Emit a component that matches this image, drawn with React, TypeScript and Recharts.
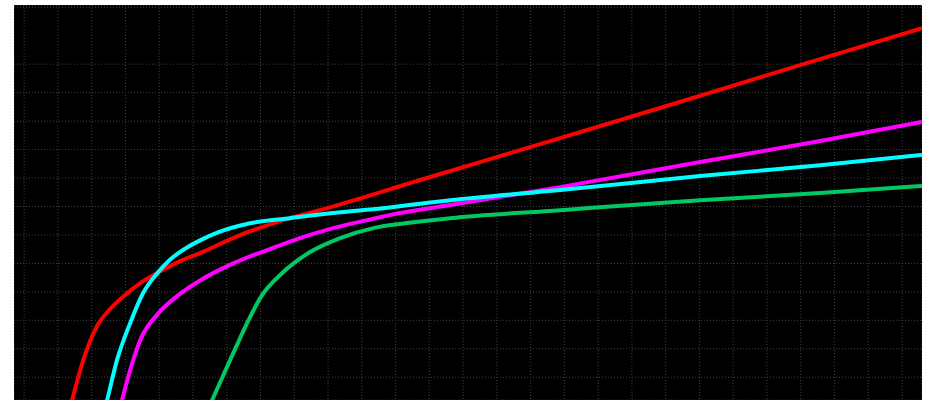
import { LineChart, Line, XAxis, YAxis, CartesianGrid } from 'recharts';

// Each curve is a list of {x, y} points in grid units (1 unit = one grid cell).
interface Pt {
    x: number;
    y: number;
}

const redCurve: Pt[] = [
    { x: 1.24, y: -0.58 }, { x: 1.42, y: 0.2 }, { x: 1.75, y: 1.6 }, { x: 2.16, y: 2.8 },
    { x: 2.55, y: 3.4 }, { x: 2.99, y: 3.89 }, { x: 3.44, y: 4.31 }, { x: 3.94, y: 4.66 },
    { x: 4.62, y: 5.08 }, { x: 5.21, y: 5.36 }, { x: 6.19, y: 5.89 }, { x: 7.67, y: 6.52 },
    { x: 8.97, y: 6.94 }, { x: 11.73, y: 7.93 }, { x: 15.28, y: 9.19 }, { x: 18.83, y: 10.46 },
    { x: 22.98, y: 11.97 }, { x: 26.59, y: 13.27 },
];

const cyanCurve: Pt[] = [
    { x: 2.31, y: -0.51 }, { x: 2.46, y: 0.2 }, { x: 2.75, y: 1.6 }, { x: 3.14, y: 2.9 },
    { x: 3.52, y: 3.95 }, { x: 3.94, y: 4.65 }, { x: 4.32, y: 5.13 }, { x: 4.77, y: 5.52 },
    { x: 5.21, y: 5.81 }, { x: 5.72, y: 6.08 }, { x: 6.69, y: 6.41 }, { x: 7.88, y: 6.59 },
    { x: 9.15, y: 6.77 }, { x: 10.63, y: 6.94 }, { x: 12.62, y: 7.22 }, { x: 15.87, y: 7.58 },
    { x: 20.02, y: 8.07 }, { x: 23.57, y: 8.45 }, { x: 26.59, y: 8.81 },
];

const magentaCurve: Pt[] = [
    { x: 2.75, y: -0.51 }, { x: 2.9, y: 0.2 }, { x: 3.14, y: 1.25 }, { x: 3.44, y: 2.31 },
    { x: 3.94, y: 3.2 }, { x: 4.53, y: 3.85 }, { x: 5.21, y: 4.4 }, { x: 6.19, y: 5.0 },
    { x: 7.2, y: 5.47 }, { x: 8.17, y: 5.89 }, { x: 9.15, y: 6.24 }, { x: 10.16, y: 6.52 },
    { x: 11.13, y: 6.77 }, { x: 12.62, y: 7.05 }, { x: 15.87, y: 7.68 }, { x: 20.02, y: 8.56 },
    { x: 23.57, y: 9.3 }, { x: 26.59, y: 9.97 },
];

const greenCurve: Pt[] = [
    { x: 5.3, y: -0.51 }, { x: 5.57, y: 0.2 }, { x: 6.1, y: 1.6 }, { x: 6.69, y: 3.11 },
    { x: 6.99, y: 3.78 }, { x: 7.67, y: 4.69 }, { x: 8.47, y: 5.4 }, { x: 9.36, y: 5.89 },
    { x: 10.34, y: 6.24 }, { x: 11.34, y: 6.42 }, { x: 12.62, y: 6.59 }, { x: 15.87, y: 6.87 },
    { x: 20.02, y: 7.22 }, { x: 23.57, y: 7.47 }, { x: 26.59, y: 7.72 },
];

// grid positions
const xTicks: number[] = Array.from({ length: 27 }, (_, i) => i);
const yTicks: number[] = Array.from({ length: 14 }, (_, i) => i + 1);

function App() {
    return (
        <div style={{ position: 'absolute', left: 14, top: 5, width: 908, height: 395, background: '#000' }}>
            <LineChart width={908} height={395} margin={{ top: 0, right: 0, bottom: 0, left: 0 }}>
                <CartesianGrid stroke="#404040" strokeDasharray="1 2" />
                <XAxis
                    type="number"
                    dataKey="x"
                    domain={[-0.3, 26.59]}
                    ticks={xTicks}
                    allowDataOverflow
                    hide
                />
                <YAxis
                    type="number"
                    dataKey="y"
                    domain={[0.2, 14.08]}
                    ticks={yTicks}
                    allowDataOverflow
                    hide
                />
                <Line data={greenCurve} dataKey="y" type="monotone" stroke="#00c864" strokeWidth={4} dot={false} isAnimationActive={false} />
                <Line data={magentaCurve} dataKey="y" type="monotone" stroke="#ff00ff" strokeWidth={4} dot={false} isAnimationActive={false} />
                <Line data={redCurve} dataKey="y" type="monotone" stroke="#ff0000" strokeWidth={4} dot={false} isAnimationActive={false} />
                <Line data={cyanCurve} dataKey="y" type="monotone" stroke="#00ffff" strokeWidth={4} dot={false} isAnimationActive={false} />
            </LineChart>
        </div>
    );
}

export default App;
